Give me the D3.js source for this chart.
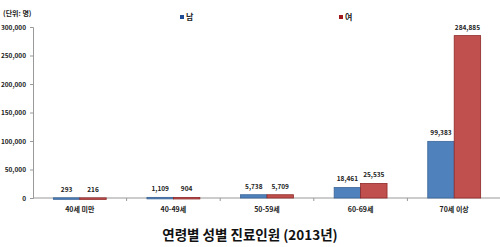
<!DOCTYPE html>
<html>
<head>
<meta charset="utf-8">
<script src="https://cdn.jsdelivr.net/npm/d3@7"></script>
<style>
  body { margin: 0; background: #fff; }
  text { font-family: "Noto Sans CJK KR", "DejaVu Sans", sans-serif; }
</style>
</head>
<body>
<div id="chart"></div>
<script>
// data
const categories = ["40세 미만", "40-49세", "50-59세", "60-69세", "70세 이상"];
const seriesNames = ["남", "여"];
const male = [293, 1109, 5738, 18461, 99383];
const female = [216, 904, 5709, 25535, 284885];
const yTicks = [0, 50000, 100000, 150000, 200000, 250000, 300000];

const w = 500, h = 247;
const margin = { top: 27, right: 0, bottom: 49, left: 33 };

const svg = d3.select("#chart").append("svg")
    .attr("width", w)
    .attr("height", h);

const x0 = d3.scaleBand()
    .domain(categories)
    .range([margin.left, w - margin.right + 1])
    .paddingInner(0)
    .paddingOuter(0);

const x1 = d3.scaleBand()
    .domain(seriesNames)
    .range([0, x0.bandwidth()])
    .paddingInner(0)
    .paddingOuter(0.77);

const y = d3.scaleLinear()
    .domain([0, 300000])
    .range([h - margin.bottom, margin.top]);

const fill = { "남": "#4f81bd", "여": "#c0504d" };
const edge = { "남": "#3a6496", "여": "#8e2a28" };
const legendFill = { "남": "#1f4e96", "여": "#a0181c" };

// y axis
const yAxis = svg.append("g")
    .attr("transform", "translate(" + margin.left + ",0)")
    .call(d3.axisLeft(y).tickValues(yTicks).tickSize(3).tickFormat(d3.format(",")));
yAxis.select(".domain").attr("stroke", "#999");
yAxis.selectAll(".tick line").attr("stroke", "#999");
yAxis.selectAll("text")
    .attr("x", -7)
    .style("font-size", "6.5px")
    .style("font-weight", "bold")
    .attr("fill", "#222");

// x axis (category boundaries)
const xAxis = svg.append("g")
    .attr("transform", "translate(0," + y(0) + ")");
xAxis.append("line")
    .attr("x1", margin.left).attr("x2", w)
    .attr("stroke", "#999");
xAxis.selectAll(".sep")
    .data(categories.slice(1))
    .enter().append("line")
    .attr("class", "sep")
    .attr("x1", d => x0(d)).attr("x2", d => x0(d))
    .attr("y1", 0).attr("y2", 3)
    .attr("stroke", "#999");
xAxis.selectAll(".cat")
    .data(categories)
    .enter().append("text")
    .attr("class", "cat")
    .attr("x", d => x0(d) + x0.bandwidth() / 2)
    .attr("y", 14)
    .attr("text-anchor", "middle")
    .style("font-size", "7px")
    .style("font-weight", "bold")
    .attr("fill", "#222")
    .text(d => d);

// bars
const rows = categories.map((c, i) => ({ cat: c, vals: [
    { name: "남", v: male[i] },
    { name: "여", v: female[i] }
] }));

const groups = svg.selectAll(".grp")
    .data(rows)
    .enter().append("g")
    .attr("class", "grp")
    .attr("transform", d => "translate(" + x0(d.cat) + ",0)");

groups.selectAll("rect")
    .data(d => d.vals)
    .enter().append("rect")
    .attr("x", d => x1(d.name))
    .attr("y", d => y(d.v))
    .attr("width", x1.bandwidth())
    .attr("height", d => Math.max(1.5, y(0) - y(d.v)))
    .attr("fill", d => fill[d.name])
    .attr("stroke", d => edge[d.name])
    .attr("stroke-width", 0.8);

groups.selectAll(".val")
    .data(d => d.vals)
    .enter().append("text")
    .attr("class", "val")
    .attr("x", d => x1(d.name) + x1.bandwidth() / 2)
    .attr("y", d => y(d.v) - 6)
    .attr("text-anchor", "middle")
    .style("font-size", "6.5px")
    .style("font-weight", "bold")
    .attr("fill", "#222")
    .text(d => d3.format(",")(d.v));

// legend
const legendX = { "남": 180, "여": 339 };
const legend = svg.selectAll(".leg")
    .data(seriesNames)
    .enter().append("g")
    .attr("class", "leg")
    .attr("transform", d => "translate(" + legendX[d] + ",15)");
legend.append("rect")
    .attr("width", 4).attr("height", 4)
    .attr("fill", d => legendFill[d]);
legend.append("text")
    .attr("x", 6).attr("y", 4.5)
    .style("font-size", "8px")
    .style("font-weight", "bold")
    .attr("fill", "#222")
    .text(d => d);

// unit label
svg.append("text")
    .attr("x", 3).attr("y", 16)
    .style("font-size", "7px")
    .style("font-weight", "bold")
    .attr("fill", "#222")
    .text("(단위: 명)");

// title
svg.append("text")
    .attr("x", 250).attr("y", 240)
    .attr("text-anchor", "middle")
    .style("font-size", "13.5px")
    .style("font-weight", "bold")
    .attr("fill", "#111")
    .text("연령별 성별 진료인원 (2013년)");
</script>
</body>
</html>
